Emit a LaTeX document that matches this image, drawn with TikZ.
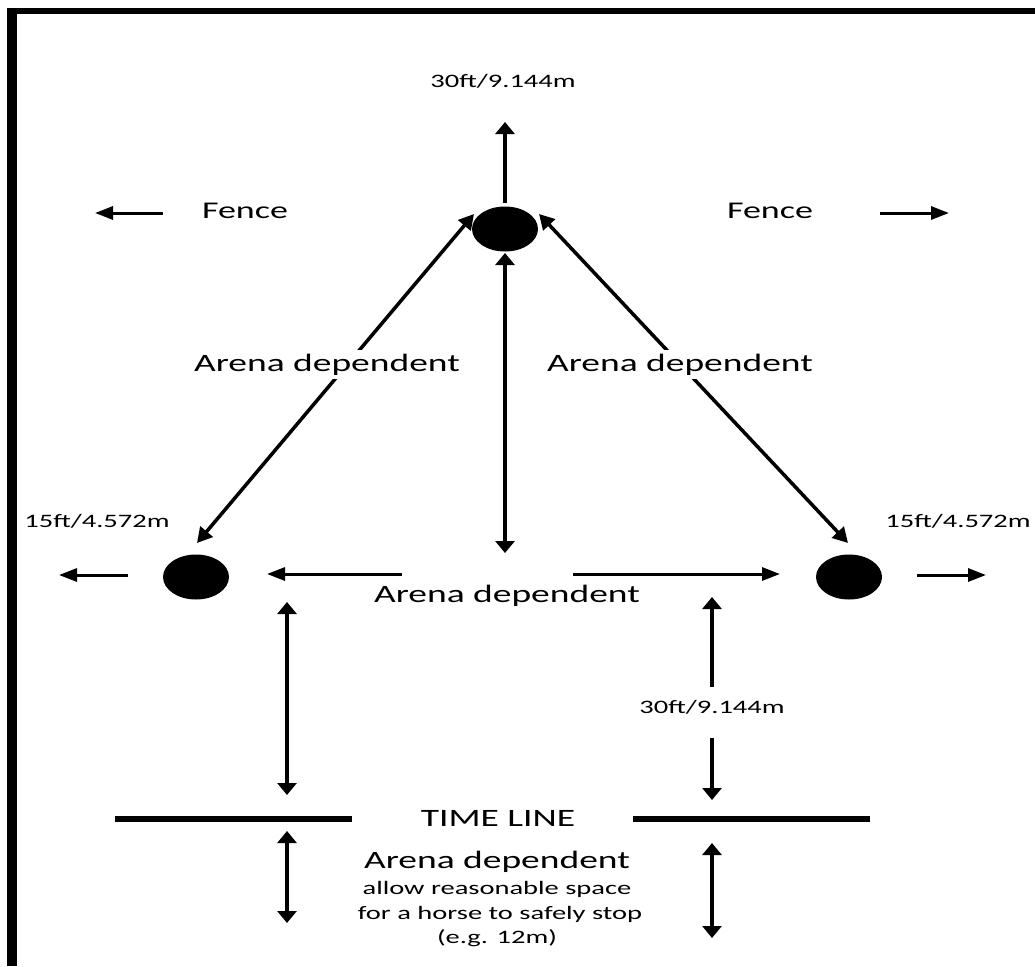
\documentclass[tikz,border=0pt]{standalone}
\usepackage{fontspec}
\setmainfont{Carlito}[FakeStretch=1.5]
\usetikzlibrary{arrows.meta,shapes.geometric}
\begin{document}
\begin{tikzpicture}[x=1pt,y=-1pt,
  lbl/.style={inner sep=0pt, anchor=base, font=\fontsize{25}{30}\selectfont},
  sml/.style={inner sep=0pt, anchor=base, font=\fontsize{19}{23}\selectfont},
  dot/.style={ellipse, fill=black, minimum width=66pt, minimum height=45pt, inner sep=0pt},
  vtip/.style={Triangle[length=12pt,width=19pt]},
  htip/.style={Triangle[length=18pt,width=13pt]},
  dtip/.style={Triangle[length=15pt,width=16pt]},
  varr/.style={line width=4pt, -{Triangle[length=12pt,width=19pt]}},
  vdbl/.style={line width=4pt, {Triangle[length=12pt,width=19pt]}-{Triangle[length=12pt,width=19pt]}},
  harr/.style={line width=3pt, -{Triangle[length=18pt,width=13pt]}},
  ddbl/.style={line width=3.5pt, {Triangle[length=15pt,width=16pt]}-{Triangle[length=15pt,width=16pt]}},
  bar/.style={line width=6.5pt},
]
\useasboundingbox (0,0) rectangle (1035,966);
% border
\draw[line width=10pt] (12,966) -- (12,8);
\draw[line width=6pt] (7,11) -- (1035,11);

% circles
\node[dot] (tc) at (505,229) {};
\node[dot] (lc) at (196,577) {};
\node[dot] (rc) at (849,577) {};

% coordinates
\coordinate (up1) at (505,203); \coordinate (up2) at (505,122);
\coordinate (fl1) at (163,213); \coordinate (fl2) at (95,213);
\coordinate (fr1) at (880,213); \coordinate (fr2) at (949,213);
\coordinate (dl1) at (474,214); \coordinate (dl2) at (197,543);
\coordinate (dr1) at (539,214); \coordinate (dr2) at (848,543);
\coordinate (cv1) at (505,253); \coordinate (cv2) at (505,553);
\coordinate (ol1) at (128,575); \coordinate (ol2) at (59,575);
\coordinate (or1) at (917,575); \coordinate (or2) at (986,575);
\coordinate (ml1) at (402,574); \coordinate (ml2) at (267,574);
\coordinate (mr1) at (573,574); \coordinate (mr2) at (780,574);
\coordinate (lv1) at (287,602); \coordinate (lv2) at (287,795);
\coordinate (lv3) at (287,831); \coordinate (lv4) at (287,923);
\coordinate (rv1) at (712,687); \coordinate (rv2) at (712,597);
\coordinate (rv3) at (712,738); \coordinate (rv4) at (712,800);
\coordinate (rv5) at (712,843); \coordinate (rv6) at (712,938);
\coordinate (tl1) at (115,819); \coordinate (tl2) at (352,819);
\coordinate (tr1) at (633,819); \coordinate (tr2) at (870,819);

% arrows
\draw[varr] (up1) -- (up2);
\draw[harr] (fl1) -- (fl2);
\draw[harr] (fr1) -- (fr2);
\draw[ddbl] (dl1) -- (dl2);
\draw[ddbl] (dr1) -- (dr2);
\draw[vdbl] (cv1) -- (cv2);
\draw[harr] (ol1) -- (ol2);
\draw[harr] (or1) -- (or2);
\draw[harr] (ml1) -- (ml2);
\draw[harr] (mr1) -- (mr2);
\draw[vdbl] (lv1) -- (lv2);
\draw[vdbl] (lv3) -- (lv4);
\draw[varr] (rv1) -- (rv2);
\draw[varr] (rv3) -- (rv4);
\draw[vdbl] (rv5) -- (rv6);
\draw[bar] (tl1) -- (tl2);
\draw[bar] (tr1) -- (tr2);

% texts
\node[sml] (t30) at (503,87) {30ft/9.144m};
\node[lbl, font=\fontsize{24}{28}\selectfont] (fenceL) at (245,218) {Fence};
\node[lbl, font=\fontsize{24}{28}\selectfont] (fenceR) at (770,218) {Fence};
\node[lbl, fill=white, inner xsep=4pt, inner ysep=4pt] (adL) at (327,371) {Arena dependent};
\node[lbl, fill=white, inner xsep=4pt, inner ysep=4pt] (adR) at (680,371) {Arena dependent};
\node[sml] (f15L) at (97,527) {15ft/4.572m};
\node[sml] (f15R) at (958,527) {15ft/4.572m};
\node[lbl] (adM) at (507,602) {Arena dependent};
\node[sml] (r30) at (712,713) {30ft/9.144m};
\node[lbl] (tline) at (498,826) {TIME LINE};
\node[lbl] (adB) at (497,868) {Arena dependent};
\node[sml] (n1) at (497,894) {allow reasonable space};
\node[sml] (n2) at (500,919) {for a horse to safely stop};
\node[sml] (n3) at (497,943) {(e.g. 12m)};
\end{tikzpicture}
\end{document}
